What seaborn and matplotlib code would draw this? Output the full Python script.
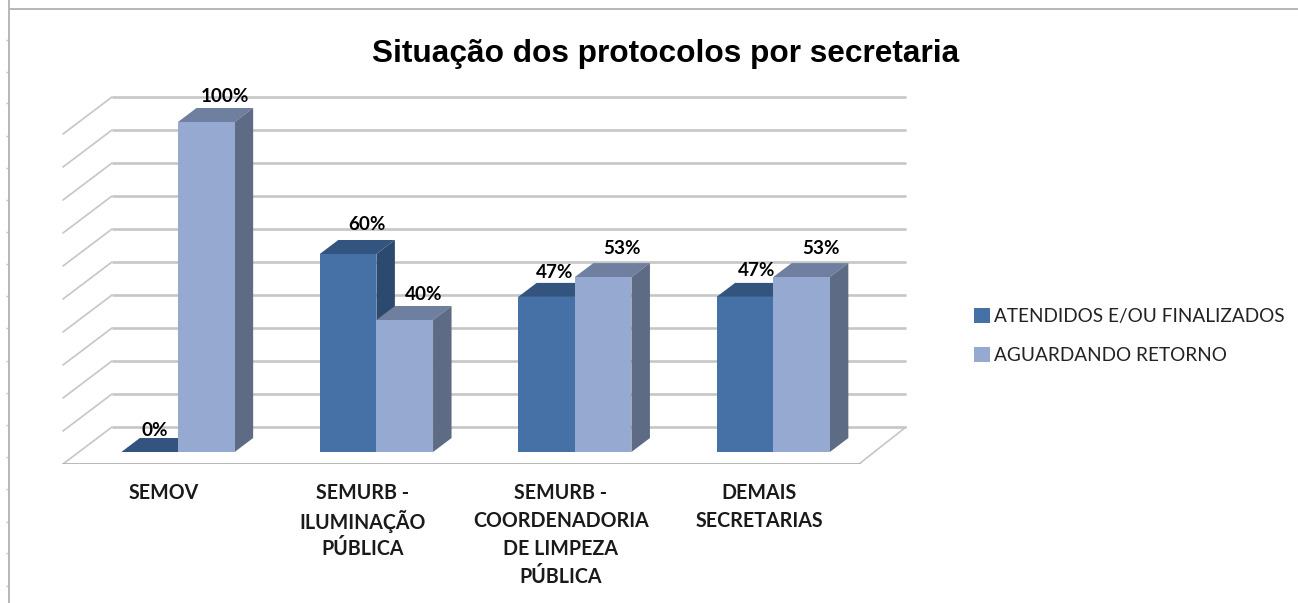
import matplotlib
matplotlib.use('Agg')
import matplotlib.pyplot as plt
from matplotlib.patches import Polygon
from matplotlib.transforms import ScaledTranslation
import pandas as pd
import seaborn as sns

# dados
categorias = ['SEMOV', 'SEMURB -\nILUMINAÇÃO\nPÚBLICA',
              'SEMURB -\nCOORDENADORIA\nDE LIMPEZA\nPÚBLICA', 'DEMAIS\nSECRETARIAS']
atendidos = [0, 60, 47, 47]
aguardando = [100, 40, 53, 53]
series = ['ATENDIDOS E/OU FINALIZADOS', 'AGUARDANDO RETORNO']
niveis = [0, 10, 20, 30, 40, 50, 60, 70, 80, 90, 100]
titulo = 'Situação dos protocolos por secretaria'

df = pd.DataFrame({
    'categoria': categorias * 2,
    'valor': atendidos + aguardando,
    'serie': [series[0]] * 4 + [series[1]] * 4,
})

W, H = 1298, 603
PX_Y = 3.3      # pixels por ponto percentual
PX_X = 198.4    # pixels entre categorias

sns.set_theme(style='white')
plt.rcParams['font.family'] = ['Lato', 'DejaVu Sans']

cores = ['#4571A6', '#95A9D1']
cores_topo = ['#33547F', '#6F7F9F']
cores_lado = ['#2C4A70', '#5D6B84']

fig = plt.figure(figsize=(W / 100, H / 100), dpi=100)
fig.patch.set_facecolor('white')

# linha e marcas cinza na borda esquerda da imagem
borda = fig.add_axes([9 / W, 0, 1 - 9 / W, 1])
borda.set_ylim(H, 0)
borda.patch.set_visible(False)
borda.set_xticks([])
borda.set_yticks([40, 72, 103, 136, 168, 200, 232, 264, 296, 328, 361, 393, 425, 457, 489, 522, 553, 586])
borda.set_yticklabels([])
borda.tick_params(axis='y', length=2.5, width=1, color='#C4C4C4', left=True)
for s in borda.spines.values():
    s.set_visible(False)
borda.spines['left'].set_visible(True)
borda.spines['left'].set_color('#B8B8B8')
borda.spines['left'].set_linewidth(1.4)
borda.axhline(9, color='#B8B8B8', lw=1.4, clip_on=False)

# eixo principal: base em y=464 px e barras com base em y=452 px
ax = fig.add_axes([0, (H - 464) / H, 1, 464 / H])
ax.patch.set_visible(False)
sns.barplot(data=df, x='categoria', y='valor', hue='serie', palette=cores,
            width=0.571, gap=0, saturation=1, errorbar=None, ax=ax, zorder=5,
            edgecolor='none', linewidth=0)
ax.set_xlim(-178 / PX_X, (W - 178) / PX_X)
ax.set_ylim(-12 / PX_Y, 452 / PX_Y)
ax.set_xlabel('')
ax.set_ylabel('')
ax.set_yticks([])
for s in ax.spines.values():
    s.set_visible(False)

# paredes e piso
x_frente = (63 - 178) / PX_X
x_fundo = (112 - 178) / PX_X
x_fim = (906 - 178) / PX_X
x_piso = (859 - 178) / PX_X
sobe = 25 / PX_Y
desce = -12 / PX_Y
cinza = '#C6C6C6'
ax.hlines([n + sobe for n in niveis], x_fundo, x_fim, color=cinza, lw=1.9, zorder=1)
for n in niveis:
    ax.plot([x_frente, x_fundo], [n + desce, n + sobe], color=cinza, lw=1.2, zorder=1)
ax.plot([x_frente, x_piso], [desce, desce], color='#ABABAB', lw=1.9, zorder=2)
ax.plot([x_piso, x_fim], [desce, sobe], color=cinza, lw=1.2, zorder=1)

# faces 3D de cada barra, tiradas das próprias barras
dx = 18.5 / PX_X
dy = 14 / PX_Y
barras = [b for b in ax.patches if b.get_width() > 0][:8]
for i, b in enumerate(barras):
    s = i // 4
    x0, x1, y1 = b.get_x(), b.get_x() + b.get_width(), b.get_height()
    z = 3 + s
    ax.add_patch(Polygon([(x0, y1), (x1, y1), (x1 + dx, y1 + dy), (x0 + dx, y1 + dy)],
                         fc=cores_topo[s], ec='none', zorder=z))
    ax.add_patch(Polygon([(x1, 0), (x1, y1), (x1 + dx, y1 + dy), (x1 + dx, dy)],
                         fc=cores_lado[s], ec='none', zorder=z))
    b.set_zorder(z + 0.5)

# rótulos de dados
desloc = [(5, 21), (19, 30), (8, 24), (12, 26),
          (19, 26), (19, 25), (19, 29), (19, 29)]
for i, b in enumerate(barras):
    v = int(b.get_height())
    ax.annotate(f'{v}%', (b.get_x() + b.get_width() / 2, v), xytext=desloc[i],
                textcoords='offset pixels', ha='center', va='center',
                fontsize=13.6, fontweight='bold', color='black', zorder=9)

# rótulos das categorias
ax.tick_params(axis='x', length=0, pad=14)
ax.set_xticks(range(4))
ax.set_xticklabels(categorias, fontsize=14.1, fontweight='bold', color='#1A1A1A',
                   linespacing=1.5, va='top')
deslocar = ScaledTranslation(-14 / 100, 0, fig.dpi_scale_trans)
for t in ax.get_xticklabels():
    t.set_transform(t.get_transform() + deslocar)
# a linha com acentos fica mais alta, então este rótulo precisa de menos espaço
ax.get_xticklabels()[1].set_linespacing(1.37)

# legenda
leg = ax.legend(*ax.get_legend_handles_labels(), loc='center left',
                bbox_to_anchor=(964 / W, (464 - 336) / 464), frameon=False,
                fontsize=13.7, handlelength=0.85, handleheight=0.85,
                handletextpad=0.25, labelspacing=1.15, borderpad=0, labelcolor='#222222')

fig.text(666 / W, 1 - 54 / H, titulo, ha='center', va='center', fontsize=22.8,
         fontweight='bold', family=['Liberation Sans', 'DejaVu Sans'], color='black')

fig.savefig('out.png', dpi=100)
